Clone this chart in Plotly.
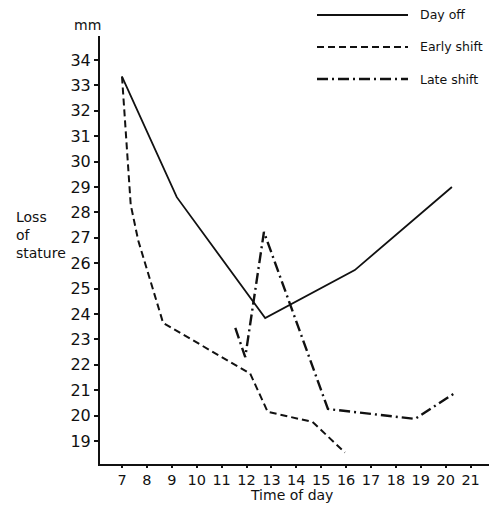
import plotly.graph_objects as go

# ---- data ----
day_off_t = [7, 9.2, 12.75, 16.35, 20.25]
day_off_v = [33.35, 28.6, 23.84, 25.73, 29.0]

early_t = [7, 7.35, 7.65, 8.65, 12.15, 12.85, 14.65, 15.95]
early_v = [33.35, 28.3, 26.9, 23.65, 21.65, 20.15, 19.75, 18.55]

late_t = [11.55, 11.95, 12.7, 15.27, 18.77, 20.37]
late_v = [23.45, 22.3, 27.23, 20.26, 19.87, 20.89]

x_ticks = list(range(7, 22))
y_ticks = list(range(19, 35))

series_names = ["Day off", "Early shift", "Late shift"]

FONT = "DejaVu Sans"
INK = "#111111"

fig = go.Figure()
styles = [
    dict(width=1.8, dash="solid"),
    dict(width=2.0, dash="7px,4px"),
    dict(width=2.4, dash="11px,4px,2px,4px"),
]
for (t, v), name, st in zip(
    [(day_off_t, day_off_v), (early_t, early_v), (late_t, late_v)], series_names, styles
):
    fig.add_trace(
        go.Scatter(
            x=t, y=v, mode="lines", name=name,
            line=dict(color=INK, width=st["width"], dash=st["dash"]),
            showlegend=False, hoverinfo="skip",
        )
    )

# the page body adds an 8px offset; compensate so the plot lands where the reference has it
OFF = 8
PAGE_W, PAGE_H = 497, 506
W, H = PAGE_W - OFF, PAGE_H - OFF
plot_left, plot_right, plot_top, plot_bottom = 100, 493, 36, 464
ml, mr = plot_left - OFF, PAGE_W - plot_right
mt, mb = plot_top - OFF, PAGE_H - plot_bottom
pw, ph = plot_right - plot_left, plot_bottom - plot_top


def px_to_paper(xp, yp):
    return (xp - plot_left) / pw, (plot_bottom - yp) / ph


shapes = []
annotations = []
# legend keys (decoration in paper coordinates)
legend_rows = [15, 47, 79]
for yrow, name, st in zip(legend_rows, series_names, styles):
    x0, y0 = px_to_paper(317, yrow)
    x1, _ = px_to_paper(408, yrow)
    shapes.append(dict(type="line", xref="paper", yref="paper", x0=x0, x1=x1, y0=y0, y1=y0,
                       line=dict(color=INK, width=st["width"], dash=st["dash"])))
    tx, _ = px_to_paper(418, yrow)
    annotations.append(dict(text=name, xref="paper", yref="paper", x=tx, y=y0,
                            xanchor="left", yanchor="middle", showarrow=False,
                            font=dict(family=FONT, size=12.5, color=INK)))

ax, ay = px_to_paper(87, 25)
annotations.append(dict(text="mm", xref="paper", yref="paper", x=ax, y=ay,
                        xanchor="center", yanchor="middle", showarrow=False,
                        font=dict(family=FONT, size=14, color=INK)))
lx, ly = px_to_paper(14, 235)
annotations.append(dict(text="Loss<br>of<br>stature", xref="paper", yref="paper", x=lx, y=ly,
                        xanchor="left", yanchor="middle", align="left", showarrow=False,
                        font=dict(family=FONT, size=14, color=INK)))
tx, ty = px_to_paper(291, 505)
annotations.append(dict(text="Time of day", xref="paper", yref="paper", x=tx, y=ty,
                        xanchor="center", yanchor="bottom", showarrow=False,
                        font=dict(family=FONT, size=14, color=INK)))

px_per_hour = 24.9
px_per_mm = 25.4
x0r = 7 - 22 / px_per_hour
y0r = 19 - 23 / px_per_mm

fig.update_layout(
    width=W, height=H,
    margin=dict(l=ml, r=mr, t=mt, b=mb, pad=0),
    paper_bgcolor="white", plot_bgcolor="white",
    shapes=shapes, annotations=annotations,
    showlegend=False,
    xaxis=dict(
        range=[x0r, x0r + pw / px_per_hour],
        tickmode="array", tickvals=x_ticks, ticktext=[str(v) for v in x_ticks],
        showgrid=False, zeroline=False,
        showline=True, linecolor=INK, linewidth=2,
        ticks="outside", ticklen=2, tickwidth=1.5, tickcolor=INK,
        tickfont=dict(family=FONT, size=14.5, color=INK),
    ),
    yaxis=dict(
        range=[y0r, y0r + ph / px_per_mm],
        tickmode="array", tickvals=y_ticks, ticktext=[str(v) for v in y_ticks],
        showgrid=False, zeroline=False,
        showline=True, linecolor=INK, linewidth=2,
        ticks="outside", ticklen=4, tickwidth=1.5, tickcolor=INK,
        tickfont=dict(family=FONT, size=16, color=INK),
    ),
)

fig.write_html("out.html")
